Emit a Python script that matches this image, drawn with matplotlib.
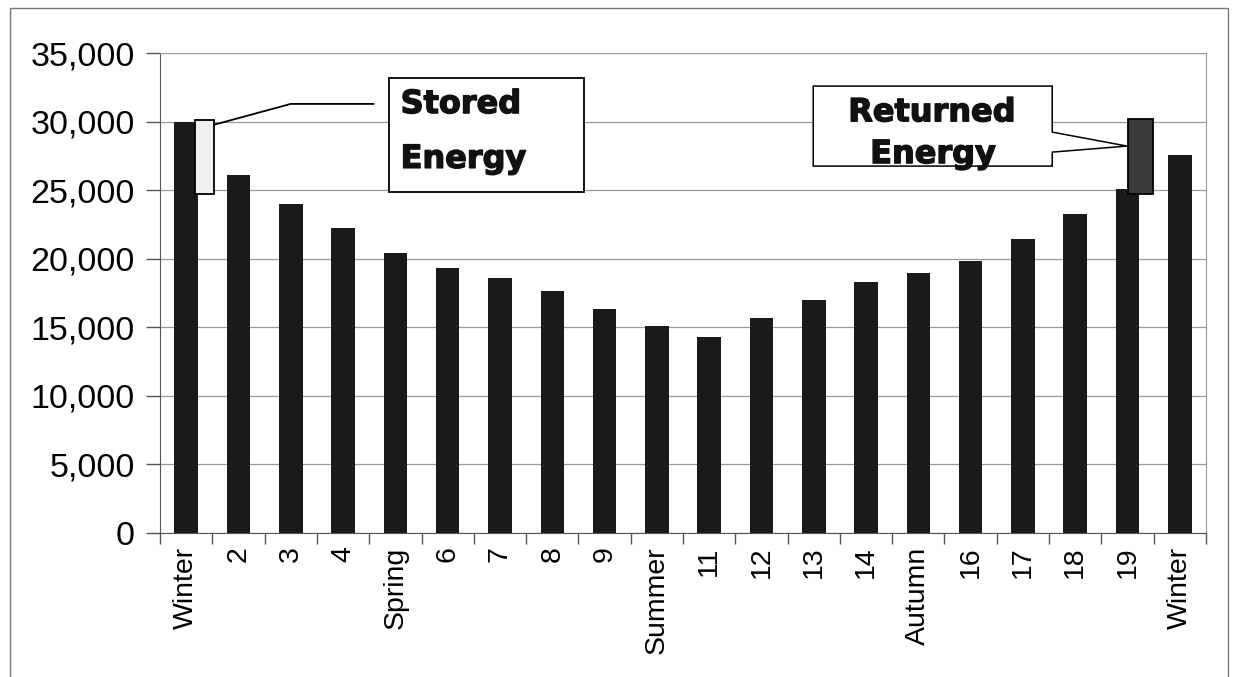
import numpy as np
import matplotlib
matplotlib.use('Agg')
import matplotlib.pyplot as plt
import matplotlib.patheffects as pe
from matplotlib.patches import Rectangle, Polygon

labels = ['Winter', '2', '3', '4', 'Spring', '6', '7', '8', '9', 'Summer',
          '11', '12', '13', '14', 'Autumn', '16', '17', '18', '19', 'Winter']
values = [30000, 26100, 24000, 22250, 20450, 19300, 18600, 17650, 16350, 15050,
          14300, 15650, 17000, 18300, 18950, 19850, 21450, 23270, 25100, 27600]

stored_range = (24700, 30150)     # energy block beside first bar
returned_range = (24720, 30200)   # energy block on bar 19

plt.rcParams['font.family'] = ['Liberation Sans', 'DejaVu Sans']

fig = plt.figure(figsize=(12.35, 6.77), dpi=100)
ax = fig.add_axes([0.1296, 0.2132, 0.8469, 0.7082])

x = np.arange(len(labels))
ax.bar(x, values, width=0.45, color='#1a1a1a', zorder=3)

ax.set_xlim(-0.5, len(labels) - 0.5)
ax.set_ylim(0, 35000)
ax.set_yticks(np.arange(0, 35001, 5000))
ax.set_yticklabels([f'{v:,}' for v in range(0, 35001, 5000)], fontsize=24.5)
ax.set_xticks(x)
ax.set_xticklabels(labels, rotation=90, fontsize=20.5)
ax.set_xticks(np.arange(-0.5, len(labels), 1), minor=True)
ax.tick_params(axis='x', which='major', length=0, pad=10)
ax.tick_params(axis='x', which='minor', length=8, color='#555555', width=1)
ax.tick_params(axis='y', length=10, color='#555555', width=1, pad=8)
ax.yaxis.grid(True, color='#999999', lw=0.9, zorder=0)

for s in ['top', 'right']:
    ax.spines[s].set_color('#999999')
for s in ['left', 'bottom']:
    ax.spines[s].set_color('#555555')

heavy = dict(fontsize=23, fontweight='heavy', family='DejaVu Sans', zorder=6,
             path_effects=[pe.withStroke(linewidth=1.0, foreground='#111111')],
             color='#111111')

# stored energy block + callout
ax.add_patch(Rectangle((0.17, stored_range[0]), 0.365, stored_range[1] - stored_range[0],
                       facecolor='#f0f0f0', edgecolor='black', lw=1.3, zorder=4))
ax.plot([0.535, 2.0, 3.58], [29780, 31300, 31300], color='black', lw=1.3, zorder=4,
        clip_on=False)
ax.add_patch(Rectangle((3.88, 24870), 3.73, 8320, facecolor='white', edgecolor='black',
                       lw=1.3, zorder=5, clip_on=False))
ax.text(4.1, 31250, 'Stored', ha='left', va='center', **heavy)
ax.text(4.1, 27250, 'Energy', ha='left', va='center', **heavy)

# returned energy block + callout
ax.add_patch(Rectangle((18.01, returned_range[0]), 0.48, returned_range[1] - returned_range[0],
                       facecolor='#3a3a3a', edgecolor='black', lw=1.3, zorder=4))
callout = [(11.99, 32600), (16.56, 32600), (16.56, 29240), (17.99, 28220),
           (16.56, 27780), (16.56, 26760), (11.99, 26760)]
ax.add_patch(Polygon(callout, closed=True, facecolor='white', edgecolor='black',
                     lw=1.1, zorder=5, clip_on=False))
ax.text(14.26, 30650, 'Returned', ha='center', va='center', **heavy)
ax.text(14.28, 27600, 'Energy', ha='center', va='center', **heavy)

# outer frame
fig.add_artist(Rectangle((10 / 1235, -0.01), 1218 / 1235, 1 - 8 / 677 + 0.01,
                         transform=fig.transFigure, fill=False, edgecolor='#777777', lw=1))

fig.savefig('out.png', dpi=100)
